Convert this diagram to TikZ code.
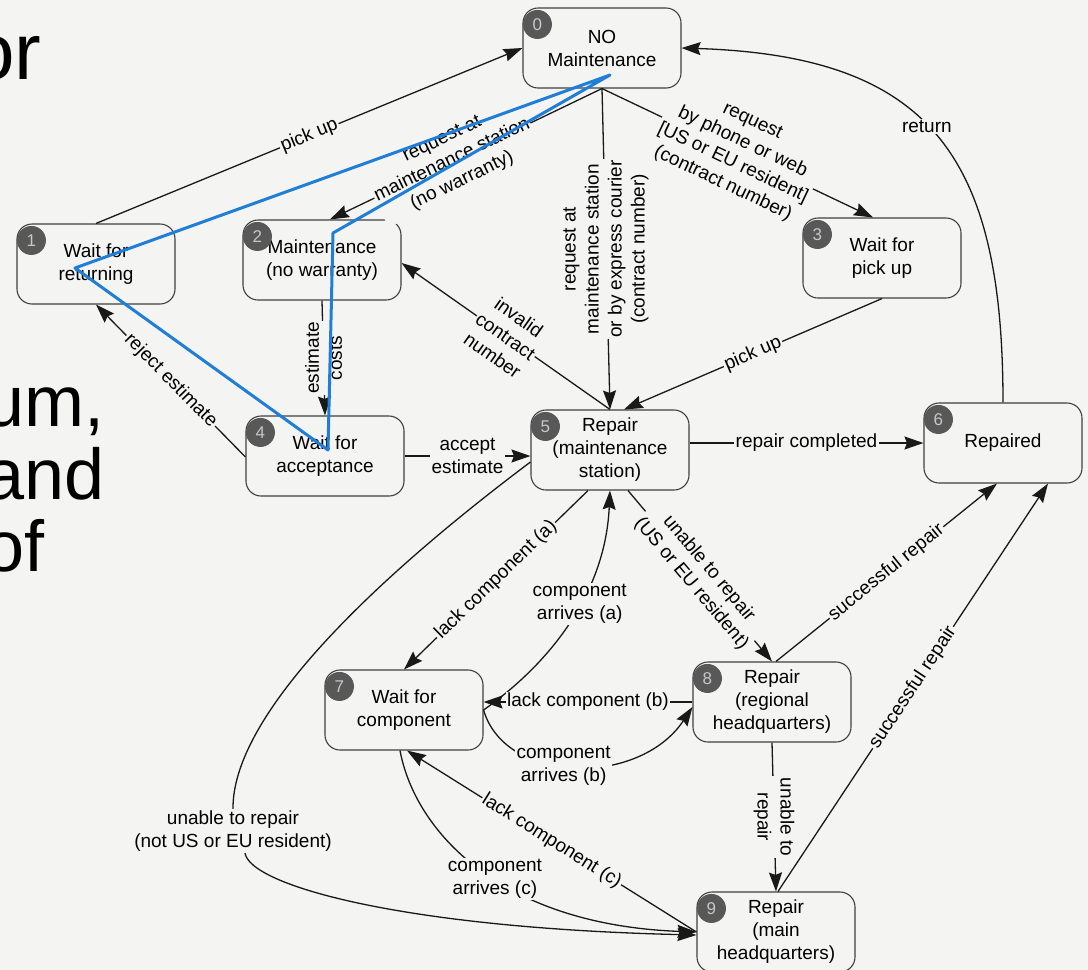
\documentclass[tikz,border=0pt]{standalone}
\usepackage{fontspec}
\setmainfont{Liberation Sans}
\usetikzlibrary{arrows.meta,calc}
\definecolor{bg}{RGB}{244,244,242}
\definecolor{badgegray}{RGB}{88,88,88}
\definecolor{annot}{RGB}{32,126,214}
\begin{document}
\begin{tikzpicture}[x=1pt,y=-1pt,
  stbox/.style={draw=black!75, line width=1.1pt, rounded corners=15pt, fill=bg,
    minimum width=158pt, minimum height=80pt, align=center, inner sep=0pt,
    text=black, font=\fontsize{19}{23}\selectfont},
  numdot/.style={circle, fill=badgegray, minimum size=29pt, inner sep=0pt,
    text=black!22, font=\fontsize{17}{17}\selectfont},
  conn/.style={line width=1.3pt, draw=black!90},
  arr/.style={conn, -{Stealth[length=19pt,width=13pt,inset=2.5pt]}},
  lbl/.style={fill=bg, inner sep=1.5pt, align=center, text=black,
    font=\fontsize{19}{23}\selectfont},
  bigtxt/.style={anchor=base west, inner sep=0pt, font=\fontsize{72}{72}\selectfont},
]
\useasboundingbox (0,0) rectangle (1088,970);
\fill[bg] (0,0) rectangle (1088,970);

% slide text fragments at the left edge
\begin{scope}
\clip (0,0) rectangle (1088,970);
\node[bigtxt, font=\fontsize{80}{80}\selectfont] (t0) at (-30,79) {or};
\node[bigtxt] (t1) at (-16,426) {um,};
\node[bigtxt] (t2) at (-16,499) {and};
\node[bigtxt] (t3) at (-16,571) {of};
\end{scope}

% states
\node[stbox] (n0) at (602,48) {NO\\Maintenance};
\node[stbox] (n1) at (96,264) {Wait for\\returning};
\node[stbox] (n2) at (322,260) {Maintenance\\(no warranty)};
\node[stbox] (n3) at (882,258) {Wait for\\pick up};
\node[stbox] (n4) at (325,456) {Wait for\\acceptance};
\node[stbox] (n5) at (610,450) {Repair\\(maintenance\\station)};
\node[stbox] (n6) at (1003,443) {Repaired};
\node[stbox] (n7) at (404,710) {Wait for\\component};
\node[stbox] (n8) at (772,702) {Repair\\(regional\\headquarters)};
\node[stbox] (n9) at (776,932) {Repair\\(main\\headquarters)};
\foreach \n in {0,...,9}
  \node[numdot] (b\n) at ($(n\n.north west)+(15,17)$) {\n};

% transitions
\draw[arr] (n1.north) -- node[lbl,sloped] {pick up} (n0.west);
\draw[arr] (n0.south) -- node[lbl,sloped,pos=0.55] {request at\\maintenance station\\(no warranty)} ($(n2.north)+(8,0)$);
\draw[arr] (n0.south) -- node[lbl,sloped,pos=0.5] {request\\by phone or web\\{[US or EU resident]}\\(contract number)} ($(n3.north)+(-9,0)$);
\draw[arr] (n0.south) -- node[lbl,rotate=90] {request at\\maintenance station\\or by express courier\\(contract number)} (n5.north);
\draw[arr] (n3.south) -- node[lbl,sloped] {pick up} ($(n5.north)+(14,0)$);
\draw[arr] (n5.north) -- node[lbl,sloped] {invalid\\contract\\number} ($(n2.east)+(0,3)$);
\draw[arr] ($(n4.west)+(0,1)$) -- node[lbl,sloped] {reject estimate} (n1.south);
\draw[arr] (n2.south) -- node[lbl,rotate=90] {estimate\\costs} (n4.north);
\draw[arr] (n4.east) -- node[lbl] {accept\\estimate} (n4.east -| n5.west);
\draw[arr] (n5.east |- n6.west) -- node[lbl] {repair completed} (n6.west);
\draw[arr] (n6.north) .. controls ($(n6.north)+(0,-245)$) and ($(n0.east)+(250,8)$) .. node[lbl,pos=0.53] {return} (n0.east);

\draw[arr] ($(n5.south)+(-22,0)$) -- node[lbl,sloped] {lack component (a)} (n7.north);
\draw[arr] (n7.east) .. controls ($(n7.east)+(57,-40)$) and ($(n5.south)+(-5,110)$) .. node[lbl,pos=0.6] {component\\arrives (a)} (n5.south);
\draw[arr] (n8.west) -- node[lbl] {lack component (b)} (n8.west -| n7.east);
\draw[arr] (n7.east) .. controls ($(n7.east)+(22,75)$) and ($(n8.west)+(-53,85)$) .. node[lbl,pos=0.45] {component\\arrives (b)} ($(n8.west)+(0,5)$);
\draw[arr] ($(n5.south)+(18,0)$) -- node[lbl,sloped] {unable to repair\\(US or EU resident)} (n8.north);
\draw[arr] ($(n8.north)+(4,0)$) -- node[lbl,sloped] {successful repair} ($(n6.south)+(-6,0)$);
\draw[arr] ($(n9.north)+(2,0)$) -- node[lbl,sloped] {successful repair} ($(n6.south)+(45,0)$);
\draw[arr] (n8.south) -- node[lbl,rotate=-90] {unable to\\repair} (n9.north);

\node[lbl] (u) at (233,831) {unable to repair\\(not US or EU resident)};
\draw[conn] ($(n5.west)+(0,12)$) .. controls (360,590) and (232,720) .. (u.north);
\draw[arr] ($(u.south)+(12,0)$) .. controls (250,885) and (400,928) .. ($(n9.west)+(0,3)$);
\draw[arr] (n9.west) -- node[lbl,sloped] {lack component (c)} ($(n7.south)+(3,0)$);
\draw[arr] ($(n7.south)+(-4,0)$) .. controls ($(n7.south)+(11,80)$) and ($(n9.west)+(-197,-7)$) .. node[lbl,pos=0.55] {component\\arrives (c)} (n9.west);

% blue annotation overlay
\coordinate (p0) at (610,75);
\coordinate (p1) at (75,268);
\coordinate (p2) at (328,450);
\coordinate (p3) at (333,233);
\draw[annot, line width=3pt, line join=round] (p0) -- (p1) -- (p2) -- (p3) -- cycle;
\end{tikzpicture}
\end{document}
